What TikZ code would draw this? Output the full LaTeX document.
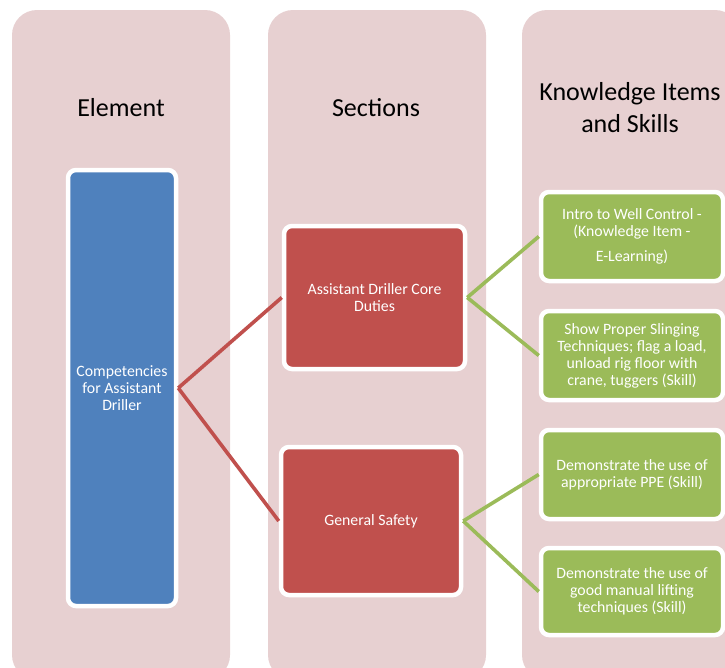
\documentclass[tikz,border=0pt]{standalone}
\usepackage{fontspec}
\setmainfont{Carlito}
\definecolor{colbg}{RGB}{231,208,209}
\definecolor{elblue}{RGB}{79,129,189}
\definecolor{secred}{RGB}{192,80,77}
\definecolor{kgreen}{RGB}{155,187,89}
\begin{document}
\begin{tikzpicture}[x=1pt,y=-1pt,
  column/.style={fill=colbg, rounded corners=25pt},
  header/.style={font=\fontsize{26}{32}\selectfont, text=black, align=center},
  card/.style={draw=white, line width=4.5pt, rounded corners=8pt, text=white,
    font=\fontsize{15.8}{17}\selectfont, align=center, inner sep=2pt},
  elbox/.style={card, fill=elblue},
  secbox/.style={card, fill=secred},
  kbox/.style={card, fill=kgreen},
  redline/.style={draw=secred, line width=3.6pt},
  greenline/.style={draw=kgreen, line width=3.6pt}]
\useasboundingbox (0,0) rectangle (725,667);
\begin{scope}
  \clip (0,0) rectangle (725,667);
  \fill[column] (12,10) rectangle (230,680);
  \fill[column] (268,10) rectangle (486,680);
  \fill[column] (522,10) rectangle (740,680);
\end{scope}
\node[header] (h1) at (121,108) {Element};
\node[header] (h2) at (376,108) {Sections};
\node[header] (h3) at (630,108) {Knowledge Items\\and Skills};

\node[elbox, minimum width=108pt, minimum height=436pt] (el) at (122,388)
  {Competencies\\for Assistant\\Driller};
\node[secbox, minimum width=181pt, minimum height=143pt] (s1) at (374.5,297.5)
  {Assistant Driller Core\\Duties};
\node[secbox, minimum width=180pt, minimum height=148pt] (s2) at (371,521)
  {General Safety};
\node[kbox, minimum width=182pt, minimum height=89pt] (k1) at (632,236.5)
  {Intro to Well Control -\\(Knowledge Item -\\[8pt]E-Learning)};
\node[kbox, minimum width=182pt, minimum height=89pt] (k2) at (632,355.5)
  {Show Proper Slinging\\Techniques; flag a load,\\unload rig floor with\\crane, tuggers (Skill)};
\node[kbox, minimum width=182pt, minimum height=89pt] (k3) at (632,474.5)
  {Demonstrate the use of\\appropriate PPE (Skill)};
\node[kbox, minimum width=182pt, minimum height=87pt] (k4) at (632,591.5)
  {Demonstrate the use of\\good manual lifting\\techniques (Skill)};

\draw[redline] (el.east) -- (s1.west);
\draw[redline] (el.east) -- (s2.west);
\draw[greenline] (s1.east) -- (k1.west);
\draw[greenline] (s1.east) -- (k2.west);
\draw[greenline] (s2.east) -- (k3.west);
\draw[greenline] (s2.east) -- (k4.west);
\end{tikzpicture}
\end{document}
